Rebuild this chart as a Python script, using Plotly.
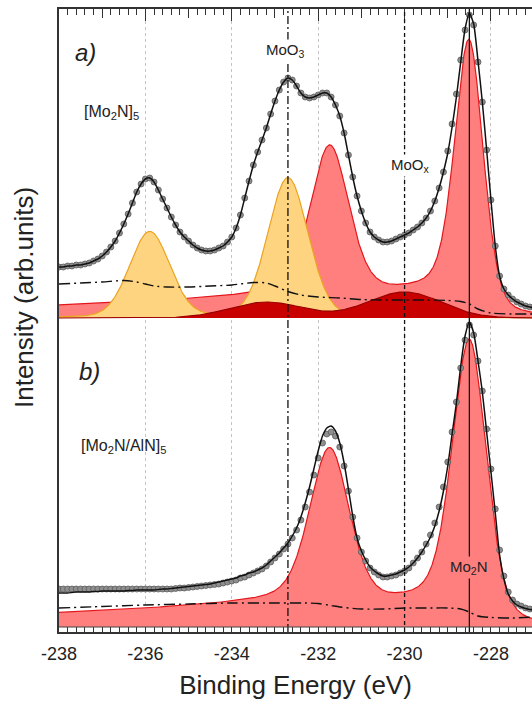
import math
import numpy as np
import plotly.graph_objects as go

# ---------------- measured Mo 3d spectra (0.1 eV steps) ----------------
energy = np.round(np.arange(-238.0, -226.95, 0.1), 1)

# a) [Mo2N]5
counts_a = [51, 51, 52, 52, 53, 53, 54, 55, 57, 59, 62,
            66, 71, 77, 85, 94, 104, 115, 126, 134, 139,
            140, 136, 128, 119, 110, 101, 93, 86, 81, 77,
            73, 70, 68, 67, 67, 68, 70, 72, 76, 81,
            90, 103, 120, 137, 153, 166, 178, 190, 204, 217,
            228, 236, 240, 238, 232, 225, 221, 220, 221, 223,
            225, 225, 221, 213, 202, 185, 163, 141, 122, 107,
            95, 86, 81, 78, 76, 76, 77, 79, 81, 83,
            85, 88, 91, 95, 100, 107, 117, 130, 146, 167,
            194, 224, 258, 288, 303, 293, 256, 216, 168, 118,
            72, 42, 29, 23, 19, 16, 14, 12, 11, 10]
fit_a = [51, 51, 52, 52, 53, 53, 54, 55, 57, 59, 62,
         66, 71, 77, 85, 94, 104, 115, 126, 134, 139,
         140, 136, 128, 119, 110, 101, 93, 86, 81, 77,
         73, 70, 68, 67, 67, 68, 70, 72, 76, 81,
         90, 103, 120, 137, 153, 166, 178, 190, 204, 217,
         228, 236, 240, 238, 232, 225, 221, 220, 221, 223,
         225, 225, 221, 213, 202, 185, 163, 141, 122, 107,
         95, 86, 81, 78, 76, 76, 77, 79, 81, 83,
         85, 88, 91, 95, 100, 107, 117, 130, 146, 165,
         191, 221, 256, 289, 305, 294, 257, 216, 168, 118,
         72, 42, 29, 23, 19, 16, 14, 12, 11, 10]

# b) [Mo2N/AlN]5
counts_b = [38, 38, 38, 38, 38, 38, 38, 38, 38, 38, 38,
            38, 38, 38, 38, 38, 38, 38, 38, 38, 38,
            38, 38, 38, 38, 38, 38, 38.5, 39, 39, 39.5,
            40, 40.5, 41, 41.5, 42, 42.5, 43, 44, 45, 46,
            47, 49, 50, 52, 54, 56, 58, 61, 65, 69,
            73, 78, 83, 89, 97, 107, 120, 135, 152, 169,
            184, 193, 195, 191, 180, 161, 136, 110, 89, 75,
            66, 59, 55, 52, 50, 50, 51, 52, 54, 56,
            59, 64, 69, 75, 83, 92, 104, 120, 140, 165,
            195, 225, 259, 287, 302, 292, 266, 236, 198, 158,
            118, 77, 51, 35, 27, 23, 21, 19, 18, 17.5]
fit_b = [34, 34, 34, 34.5, 35, 35, 35, 35, 35.5, 35.5, 36,
         36, 36, 36, 36, 36, 36.5, 36.5, 37, 37, 37,
         37, 37, 37.5, 38, 38, 38.5, 39, 39.5, 40, 40.5,
         41, 41.5, 42, 42.5, 43, 44, 45, 46, 47, 48,
         49, 51, 52, 54, 55, 57, 59, 62, 66, 70,
         74, 79, 84, 91, 99, 110, 124, 140, 158, 176,
         191, 199, 201, 196, 184, 164, 138, 111, 89, 76,
         67, 60, 56, 53, 51, 51, 52, 53, 55, 57,
         60, 64, 69, 75, 82, 90, 101, 116, 136, 161,
         193, 224, 261, 291, 305, 294, 266, 235, 195, 155,
         114, 72, 48, 33, 26, 22, 20, 18.5, 17.5, 17]

# Shirley-type backgrounds
bg_a_energy = [-238.0, -237.5, -237.0, -236.5, -236.2, -236.0, -235.8, -235.5, -235.0, -234.5,
               -234.0, -233.5, -233.2, -233.0, -232.7, -232.4, -232.0, -231.5, -231.0, -230.5,
               -230.0, -229.5, -229.0, -228.7, -228.5, -228.3, -228.0, -227.5, -227.0]
bg_a = [34, 35, 36, 37.5, 36, 34, 32, 31, 31, 32,
        33, 35.5, 35, 32, 26.5, 23, 21, 20, 18.5, 18,
        18, 18, 17.5, 16.5, 14, 9, 5, 4, 4]
bg_b_energy = [-238.0, -237.0, -236.0, -235.0, -234.0, -233.0, -232.3, -232.0, -231.7, -231.5,
               -231.0, -230.5, -230.0, -229.5, -229.0, -228.7, -228.5, -228.3, -228.0, -227.5,
               -227.0]
bg_b = [19, 20.5, 22, 23, 24, 24, 24, 23.5, 21.5, 20,
        18, 18, 19, 19, 19, 18, 15, 11, 9.5, 9,
        10]

# ---------------- fitted components: centre (eV), height, FWHM (eV) ----------------
mo2n_a_center = [-228.5, -231.73]
mo2n_a_height = [262, 148]
mo2n_a_fwhm = [0.78, 1.05]
mo2n_a_tail = [30.6, 7.2]

moo3_a_center = [-235.9, -232.7]
moo3_a_height = [86, 140]
moo3_a_fwhm = [1.1, 1.1]

moox_a_center = [-230.0, -233.2]
moox_a_height = [26, 16]
moox_a_fwhm = [2.0, 2.0]

mo2n_b_center = [-228.49, -231.73]
mo2n_b_height = [272, 153]
mo2n_b_fwhm = [0.93, 1.08]
mo2n_b_tail = [28.7, 11.6]

# reference binding energies drawn as vertical guides
ref_energy = [-232.7, -230.0, -228.5]
ref_dash = ["8px,3px,2px,3px", "4px,3px", "solid"]

x_range = [-238.0, -227.05]
tick_vals = [-238, -236, -234, -232, -230, -228]
tick_text = ["-238", "-236", "-234", "-232", "-230", "-228"]
mid_ticks = [-237, -235, -233, -231, -229, -227]

FONT = "Liberation Sans, Arial, sans-serif"
RED_FILL, RED_LINE = "#FF7F7F", "#E3161B"
YEL_FILL, YEL_LINE = "#FFD480", "#EBA321"
DRK_FILL, DRK_LINE = "#C80000", "#9A0000"


def voigt_like(e, c, h, w, eta):
    d = e - c
    gauss = np.exp(-4 * math.log(2) * (d / w) ** 2)
    lorentz = 1.0 / (1.0 + (2 * d / w) ** 2)
    return h * ((1 - eta) * gauss + eta * lorentz)


def asym_tail(e, c, t, w, lam=8.0):
    d = e - c
    s = w / 2.3548
    step = np.array([0.5 * math.erfc(v / (s * math.sqrt(2))) for v in d])
    return t * np.exp(np.minimum(d, 0) / lam) * step


def component(e, centers, heights, fwhms, eta, tails=None):
    y = np.zeros_like(e)
    for i, (c, h, w) in enumerate(zip(centers, heights, fwhms)):
        y = y + voigt_like(e, c, h, w, eta)
        if tails is not None:
            y = y + asym_tail(e, c, tails[i], w)
    return y


e_fine = np.linspace(x_range[0], x_range[1], 1096)
red_a = component(e_fine, mo2n_a_center, mo2n_a_height, mo2n_a_fwhm, 0.3, mo2n_a_tail)
yel_a = component(e_fine, moo3_a_center, moo3_a_height, moo3_a_fwhm, 0.15)
drk_a = component(e_fine, moox_a_center, moox_a_height, moox_a_fwhm, 0.0)
red_b = component(e_fine, mo2n_b_center, mo2n_b_height, mo2n_b_fwhm, 0.3, mo2n_b_tail)

fig = go.Figure()


def fill_trace(y, fill, line, xa, ya):
    return go.Scatter(x=e_fine, y=y, mode="lines", fill="tozeroy", fillcolor=fill,
                      line=dict(color=line, width=1.2), xaxis=xa, yaxis=ya,
                      hoverinfo="skip", showlegend=False)


def bg_trace(x, y, xa, ya):
    return go.Scatter(x=x, y=y, mode="lines", line=dict(color="#111", width=1.4,
                      dash="11px,4px,2px,4px", shape="spline", smoothing=0.8),
                      xaxis=xa, yaxis=ya, hoverinfo="skip", showlegend=False)


def data_trace(y, xa, ya):
    return go.Scatter(x=energy, y=y, mode="markers",
                      marker=dict(size=6, color="#8f8f8f", line=dict(color="#5c5c5c", width=0.8)),
                      xaxis=xa, yaxis=ya, hoverinfo="skip", showlegend=False)


def fit_trace(y, xa, ya):
    return go.Scatter(x=energy, y=y, mode="lines",
                      line=dict(color="#111", width=1.5, shape="spline", smoothing=0.6),
                      xaxis=xa, yaxis=ya, hoverinfo="skip", showlegend=False)


# panel a
fig.add_trace(fill_trace(red_a, RED_FILL, RED_LINE, "x2", "y2"))
fig.add_trace(fill_trace(yel_a, YEL_FILL, YEL_LINE, "x2", "y2"))
fig.add_trace(fill_trace(drk_a, DRK_FILL, DRK_LINE, "x2", "y2"))
fig.add_trace(data_trace(counts_a, "x2", "y2"))
fig.add_trace(fit_trace(fit_a, "x2", "y2"))
fig.add_trace(bg_trace(bg_a_energy, bg_a, "x3", "y2"))

# panel b
fig.add_trace(fill_trace(red_b, RED_FILL, RED_LINE, "x", "y"))
fig.add_trace(bg_trace(bg_b_energy, bg_b, "x", "y"))
fig.add_trace(data_trace(counts_b, "x", "y"))
fig.add_trace(fit_trace(fit_b, "x", "y"))

split = 312 / 623
axis_col = "#333"

fig.update_layout(
    width=532, height=711,
    margin=dict(l=59, r=0, t=9, b=79),
    plot_bgcolor="white", paper_bgcolor="white",
    showlegend=False,
    font=dict(family=FONT, color="#222", size=18),
    xaxis=dict(domain=[0, 1], range=x_range, anchor="y",
               showline=True, linecolor=axis_col, linewidth=1.5, mirror=False,
               ticks="inside", ticklen=5, tickwidth=1, tickcolor=axis_col,
               tickvals=tick_vals, ticktext=tick_text, ticklabelstandoff=5,
               tickfont=dict(family=FONT, size=18, color="#222"),
               showgrid=True, gridcolor="#c4c4c4", griddash="dot", gridwidth=1,
               minor=dict(tick0=-238, dtick=0.2, ticks="inside", ticklen=5,
                          tickcolor=axis_col, showgrid=False),
               zeroline=False,
               title=dict(text="Binding Energy (eV)", font=dict(family=FONT, size=26, color="#222"),
                          standoff=12)),
    yaxis=dict(domain=[0, split], range=[-5, 307],
               showline=True, linecolor=axis_col, linewidth=1.5,
               showticklabels=False, ticks="", showgrid=False, zeroline=False),
    xaxis2=dict(domain=[0, 1], range=x_range, anchor="y2", matches="x", side="top",
                showline=True, linecolor=axis_col, linewidth=1.5,
                ticks="inside", ticklen=12, tickwidth=1, tickcolor=axis_col,
                tickvals=tick_vals, showticklabels=False,
                showgrid=True, gridcolor="#c4c4c4", griddash="dot", gridwidth=1,
                minor=dict(tick0=-238, dtick=0.2, ticks="inside", ticklen=6,
                           tickcolor=axis_col, showgrid=False),
                zeroline=False),
    xaxis3=dict(range=x_range, overlaying="x2", anchor="y2", side="top",
                tickvals=mid_ticks, ticks="inside", ticklen=9, tickwidth=1, tickcolor=axis_col,
                showticklabels=False, showgrid=False, showline=False, zeroline=False),
    yaxis2=dict(domain=[split, 1], range=[-2, 309],
                showline=True, linecolor=axis_col, linewidth=1.5,
                showticklabels=False, ticks="", showgrid=False, zeroline=False),
)

# vertical guides through both panels
for xe, dash in zip(ref_energy, ref_dash):
    fig.add_shape(type="line", xref="x", yref="paper", x0=xe, x1=xe, y0=0, y1=1,
                  line=dict(color="#111", width=1.3, dash=dash), layer="above")

# baseline of the lower panel
fig.add_shape(type="line", xref="paper", yref="y", x0=0, x1=1, y0=0, y1=0,
              line=dict(color="#444", width=1), layer="above")

ann = [
    dict(text="<i>a)</i>", x=-237.38, y=266, xref="x2", yref="y2", size=24),
    dict(text="[Mo<sub>2</sub>N]<sub>5</sub>", x=-236.78, y=206, xref="x2", yref="y2", size=16),
    dict(text="MoO<sub>3</sub>", x=-232.75, y=268, xref="x2", yref="y2", size=15, bgcolor="white"),
    dict(text="MoO<sub>x</sub>", x=-229.86, y=153, xref="x2", yref="y2", size=15, bgcolor="white"),
    dict(text="<i>b)</i>", x=-237.29, y=255, xref="x", yref="y", size=24),
    dict(text="[Mo<sub>2</sub>N/AlN]<sub>5</sub>", x=-236.5, y=180, xref="x", yref="y", size=16),
    dict(text="Mo<sub>2</sub>N", x=-228.5, y=60, xref="x", yref="y", size=15, bgcolor=RED_FILL),
    dict(text="Intensity (arb.units)", textangle=-90, x=(24 - 59) / 473, y=(632 - 298) / 623,
         xref="paper", yref="paper", size=26),
]
for a in ann:
    size = a.pop("size")
    fig.add_annotation(showarrow=False, xanchor="center", yanchor="middle",
                       font=dict(family=FONT, color="#222", size=size), **a)

fig.write_html("out.html")
